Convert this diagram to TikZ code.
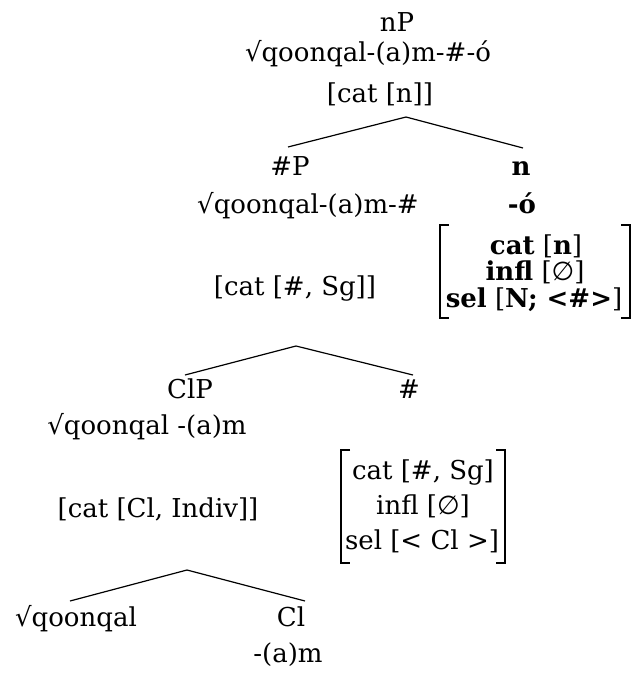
\documentclass[tikz,border=0pt]{standalone}
\usepackage{fontspec}
\setmainfont{DejaVu Serif}
\newfontfamily\symf{DejaVu Sans}
\newcommand{\nul}{{\symf ∅}}
\begin{document}
\begin{tikzpicture}[x=1pt,y=-1pt,line width=1.2pt,
  word/.style={anchor=base,inner sep=0pt,font=\fontsize{26}{30}\selectfont},
  bword/.style={word,font=\fontsize{26}{30}\selectfont\bfseries},
  brak/.style={line width=2.4pt}]
\useasboundingbox (0,0) rectangle (636,673);

% nP
\node[word] (nP) at (397,31) {nP};
\node[word] (nProot) at (368,61) {√qoonqal-(a)m-\#-ó};
\node[word] (nPcat) at (380,102) {[cat [n]]};
\coordinate (apexA) at (406,117);
\coordinate (footAl) at (288,147);
\coordinate (footAr) at (523,148);
\draw (footAl) -- (apexA) -- (footAr);

% #P
\node[word] (hashP) at (290,175) {\#P};
\node[word] (hashProot) at (308,213) {√qoonqal-(a)m-\#};
\node[word] (hashPcat) at (295,295) {[cat [\#, Sg]]};

% n head
\node[bword] (nhead) at (521,175) {n};
\node[bword] (nsuf) at (522,213) {-ó};
\node[word] (ncat) at (536,254) {\textbf{cat} [\textbf{n}]};
\node[word] (ninfl) at (535,280) {\textbf{infl} [\nul]};
\node[word] (nsel) at (534,307) {\textbf{sel} [\textbf{N; <\#>}]};
\draw[brak] (449,225) -- (440,225) -- (440,318) -- (449,318);
\draw[brak] (621,225) -- (630,225) -- (630,318) -- (621,318);

\coordinate (apexB) at (296,346);
\coordinate (footBl) at (185,375);
\coordinate (footBr) at (413,375);
\draw (footBl) -- (apexB) -- (footBr);

% ClP
\node[word] (ClP) at (190,398) {ClP};
\node[word] (ClProot) at (147,434) {√qoonqal -(a)m};
\node[word] (ClPcat) at (158,517) {[cat [Cl, Indiv]]};

% # head
\node[word] (hhead) at (409,398) {\#};
\node[word] (hcat) at (423,479) {cat [\#, Sg]};
\node[word] (hinfl) at (423,514) {infl [\nul]};
\node[word] (hsel) at (422,549) {sel [< Cl >]};
\draw[brak] (350,450) -- (341,450) -- (341,563) -- (350,563);
\draw[brak] (496,450) -- (505,450) -- (505,563) -- (496,563);

\coordinate (apexC) at (187,570);
\coordinate (footCl) at (70,601);
\coordinate (footCr) at (305,601);
\draw (footCl) -- (apexC) -- (footCr);

% leaves
\node[word] (root) at (76,626) {√qoonqal};
\node[word] (Cl) at (291,626) {Cl};
\node[word] (Clsuf) at (288,662) {-(a)m};
\end{tikzpicture}
\end{document}
